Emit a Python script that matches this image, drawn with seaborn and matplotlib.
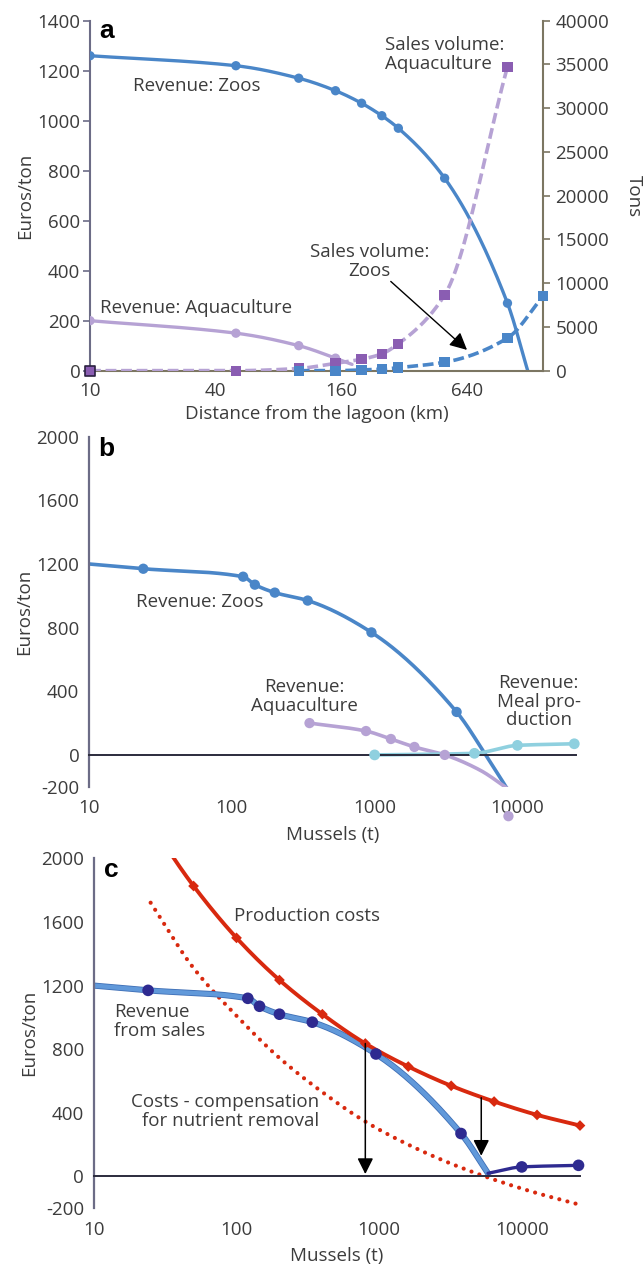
import numpy as np
import pandas as pd
import matplotlib
matplotlib.use("Agg")
import matplotlib.pyplot as plt
import seaborn as sns
from matplotlib.ticker import FixedLocator, NullLocator
import matplotlib.patheffects as pe

# ---------------- data ----------------
# Panel a: distance from the lagoon (km)
zoos_a_km = [10, 50, 100, 150, 200, 250, 300, 500, 1000, 1250]
zoos_a_rev = [1260, 1220, 1170, 1120, 1070, 1020, 970, 770, 270, 0]
aqua_a_km = [10, 50, 100, 150, 180]
aqua_a_rev = [200, 150, 100, 50, 25]
volaq_km = [10, 50, 100, 150, 200, 250, 300, 500, 1000]
volaq_t = [0, 0, 250, 850, 1310, 1920, 3070, 8650, 34750]
volzo_km = [100, 150, 200, 250, 300, 500, 1000, 1480]
volzo_t = [0, 0, 80, 160, 345, 965, 3726, 8510]
a_xticks = [10, 40, 160, 640]

# Panel b: mussels (t)
zoos_b_t = [10, 24, 120, 145, 200, 340, 950, 3750, 6000, 9000]
zoos_b_rev = [1200, 1170, 1120, 1070, 1020, 970, 770, 270, 0, -250]
aqua_b_t = [350, 870, 1300, 1900, 3100, 5450, 8650]
aqua_b_rev = [200, 150, 100, 50, 0, -95, -215]
aqua_b_last_t = [8650]
aqua_b_last_rev = [-385]
meal_b_t = [1000, 5000, 10000, 25000]
meal_b_rev = [0, 10, 60, 70]

# Panel c
cost_t = [25, 50, 100, 200, 400, 800, 1600, 3200, 6400, 12800, 25600]
cost_val = [2215, 1826, 1500, 1235, 1020, 836, 691, 570, 471, 387, 320]
comp_val = [1721, 1310, 1010, 745, 530, 345, 200, 80, -20, -105, -178]
sales_c_t = [10, 24, 120, 145, 200, 340, 950, 3750, 5800]
sales_c_rev = [1200, 1170, 1120, 1070, 1020, 970, 770, 270, 20]
meal_c_t = [5800, 10000, 25000]
meal_c_rev = [20, 60, 70]
arrow_c_t = [800, 5200]
arrow_c_from = [836, 495]
arrow_c_to = [15, 130]

bc_xticks = [10, 100, 1000, 10000]

# ---------------- style ----------------
sns.set_theme(style="white")
plt.rcParams["font.family"] = ["Open Sans", "DejaVu Sans"]
plt.rcParams["axes.unicode_minus"] = False
TXT = "#3c3c3c"
plt.rcParams["text.color"] = TXT
plt.rcParams["axes.labelcolor"] = TXT
plt.rcParams["xtick.color"] = TXT
plt.rcParams["ytick.color"] = TXT
FS = 13.5

BLUE = "#4a86c8"
LPURP = "#b6a2d4"
DPURP = "#8a5db2"
CYAN = "#8fd0df"
RED = "#d8290f"
NAVY = "#2e2a90"
LBLUE = "#6199da"
SPINE_L = "#6c6c86"
OLIVE = "#7c7662"
ZERO = "#2b2b3c"


def pchip(x, y, xn):
    x = np.asarray(x, float); y = np.asarray(y, float)
    h = np.diff(x); d = np.diff(y) / h
    n = len(x)
    m = np.zeros(n)
    if n == 2:
        m[:] = d[0]
    else:
        for k in range(1, n - 1):
            if d[k - 1] * d[k] <= 0:
                m[k] = 0
            else:
                w1 = 2 * h[k] + h[k - 1]; w2 = h[k] + 2 * h[k - 1]
                m[k] = (w1 + w2) / (w1 / d[k - 1] + w2 / d[k])
        m[0] = d[0]; m[-1] = d[-1]
    idx = np.clip(np.searchsorted(x, xn) - 1, 0, n - 2)
    t = (xn - x[idx]) / h[idx]
    h00 = 2 * t**3 - 3 * t**2 + 1; h10 = t**3 - 2 * t**2 + t
    h01 = -2 * t**3 + 3 * t**2; h11 = t**3 - t**2
    return h00 * y[idx] + h10 * h[idx] * m[idx] + h01 * y[idx + 1] + h11 * h[idx] * m[idx + 1]


def smooth_df(x, y, n=300):
    lx = np.log10(np.asarray(x, float))
    t = np.linspace(lx[0], lx[-1], n)
    return pd.DataFrame({"x": 10**t, "y": pchip(lx, y, t)})


def line(ax, x, y, **kw):
    df = smooth_df(x, y)
    return sns.lineplot(data=df, x="x", y="y", ax=ax, estimator=None, sort=False,
                        legend=False, **kw)


def pts(ax, x, y, **kw):
    df = pd.DataFrame({"x": x, "y": y})
    sns.scatterplot(data=df, x="x", y="y", ax=ax, legend=False, **kw)


fig = plt.figure(figsize=(6.43, 12.72), dpi=100)

# ================= panel a =================
ax = fig.add_axes([0.140, 0.7086, 0.7045, 0.2751])
ax.set_xscale("log", base=4)
ax.set_xlim(10, 1480)
ax.set_ylim(0, 1400)
ax2 = ax.twinx()
ax2.set_xscale("log", base=4)
ax2.set_ylim(0, 40000)
ax2.set_xlim(10, 1480)

line(ax, zoos_a_km, zoos_a_rev, color=BLUE, lw=2.4)
pts(ax, zoos_a_km[:-1], zoos_a_rev[:-1], color=BLUE, s=45, edgecolor="none", zorder=3)
line(ax, aqua_a_km, aqua_a_rev, color=LPURP, lw=2.4)
pts(ax, aqua_a_km[:-1], aqua_a_rev[:-1], color=LPURP, s=45, edgecolor="none", zorder=3)

line(ax2, volaq_km, volaq_t, color=LPURP, lw=2.6, dashes=(3, 1.3))
pts(ax2, volaq_km, volaq_t, color=DPURP, marker="s", s=55, edgecolor="none", zorder=4, clip_on=False)
pts(ax2, volaq_km[:1], volaq_t[:1], color=DPURP, marker="s", s=55, edgecolor="#2a2040", linewidth=1.2, zorder=5, clip_on=False)
line(ax2, volzo_km, volzo_t, color=BLUE, lw=2.6, dashes=(3, 1.3))
pts(ax2, volzo_km, volzo_t, color=BLUE, marker="s", s=55, edgecolor="none", zorder=4, clip_on=False)

for a in (ax, ax2):
    a.set_xlabel(""); a.set_ylabel("")
ax.set_xlabel("Distance from the lagoon (km)", fontsize=FS, labelpad=4)
ax.set_ylabel("Euros/ton", fontsize=FS, labelpad=2)
ax2.set_ylabel("Tons", fontsize=FS, rotation=270, labelpad=24)

ax.xaxis.set_major_locator(FixedLocator(a_xticks))
ax.xaxis.set_minor_locator(NullLocator())
ax.set_xticklabels([str(v) for v in a_xticks])
ax.set_yticks(range(0, 1401, 200))
ax2.set_yticks(range(0, 40001, 5000))
ax.tick_params(axis="x", direction="in", length=6, width=1.2, color=OLIVE, labelsize=FS, pad=8)
ax.tick_params(axis="y", direction="out", length=5, width=1.2, color=SPINE_L, labelsize=FS, pad=2)
ax2.tick_params(axis="y", direction="out", length=5, width=1.2, color=OLIVE, labelsize=FS, pad=4)
for s in ("top", "right"):
    ax.spines[s].set_visible(False)
for s in ("top", "left", "bottom"):
    ax2.spines[s].set_visible(False)
ax.spines["left"].set_color(SPINE_L); ax.spines["left"].set_linewidth(1.5)
ax.spines["bottom"].set_color(OLIVE); ax.spines["bottom"].set_linewidth(1.5)
ax2.spines["right"].set_color(OLIVE); ax2.spines["right"].set_linewidth(1.5)

ax.text(0.02, 1.005, "a", transform=ax.transAxes, fontsize=19, fontweight="bold",
        family="Liberation Sans", color="black", va="top", ha="left")
ax.text(16.1, 1137, "Revenue: Zoos", fontsize=FS, va="center", ha="left")
ax.text(11.2, 252, "Revenue: Aquaculture", fontsize=FS, va="center", ha="left")
ax.text(259, 1266, "Sales volume:\nAquaculture", fontsize=FS, va="center", ha="left", linespacing=1.05)
ax.text(219, 437, "Sales volume:\nZoos", fontsize=FS, va="center", ha="center", linespacing=1.05)
ax.annotate("", xy=(640, 83), xytext=(276, 357),
            arrowprops=dict(arrowstyle="-|>", color="black", lw=1.0, mutation_scale=26,
                            shrinkA=0, shrinkB=0))


# ================= panels b and c common =================
def setup_bc(axx):
    axx.set_xscale("log")
    axx.set_xlim(10, 25600)
    axx.set_ylim(-200, 2000)
    axx.xaxis.set_major_locator(FixedLocator(bc_xticks))
    axx.xaxis.set_minor_locator(NullLocator())
    axx.set_xticklabels([str(v) for v in bc_xticks])
    axx.yaxis.set_major_locator(FixedLocator([-200, 0, 400, 800, 1200, 1600, 2000]))
    axx.yaxis.set_minor_locator(FixedLocator([200, 600, 1000, 1400, 1800]))
    axx.tick_params(axis="y", which="both", direction="out", length=5, width=1.2,
                    color=SPINE_L, labelsize=FS, pad=2)
    axx.tick_params(axis="x", direction="out", length=6, width=1.4, color=ZERO,
                    labelsize=FS, pad=26)
    for s in ("top", "right"):
        axx.spines[s].set_visible(False)
    axx.spines["left"].set_color(SPINE_L); axx.spines["left"].set_linewidth(1.6)
    axx.spines["bottom"].set_position(("data", 0))
    axx.spines["bottom"].set_color(ZERO); axx.spines["bottom"].set_linewidth(1.4)


# ================= panel b =================
bx = fig.add_axes([0.1384, 0.3815, 0.757, 0.2752])
setup_bc(bx)
line(bx, zoos_b_t, zoos_b_rev, color=BLUE, lw=2.6)
pts(bx, zoos_b_t[1:8], zoos_b_rev[1:8], color=BLUE, s=55, edgecolor="none", zorder=3)
line(bx, aqua_b_t, aqua_b_rev, color=LPURP, lw=2.6)
pts(bx, aqua_b_t[:5], aqua_b_rev[:5], color=LPURP, s=55, edgecolor="none", zorder=3)
pts(bx, aqua_b_last_t, aqua_b_last_rev, color=LPURP, s=55, edgecolor="none", zorder=3, clip_on=False)
line(bx, meal_b_t, meal_b_rev, color=CYAN, lw=2.6)
pts(bx, meal_b_t, meal_b_rev, color=CYAN, s=60, edgecolor="none", zorder=3, clip_on=False)
bx.set_xlabel("Mussels (t)", fontsize=FS, labelpad=6)
bx.set_ylabel("Euros/ton", fontsize=FS, labelpad=2)

bx.text(0.02, 1.0, "b", transform=bx.transAxes, fontsize=19, fontweight="bold",
        family="Liberation Sans", color="black", va="top", ha="left")
bx.text(21.3, 963, "Revenue: Zoos", fontsize=FS, va="center", ha="left")
bx.text(322, 366, "Revenue:\nAquaculture", fontsize=FS, va="center", ha="center", linespacing=1.05)
bx.text(14100, 335, "Revenue:\nMeal pro-\nduction", fontsize=FS, va="center", ha="center", linespacing=1.05)

# ================= panel c =================
cx = fig.add_axes([0.146, 0.0501, 0.756, 0.2751])
setup_bc(cx)
line(cx, cost_t, comp_val, color=RED, lw=3.0, linestyle=(0, (0.01, 2.0)),
     solid_capstyle="round", dash_capstyle="round")
line(cx, sales_c_t, sales_c_rev, color=LBLUE, lw=3.2,
     path_effects=[pe.Stroke(linewidth=4.4, foreground="#3f6fb6"), pe.Normal()])
line(cx, meal_c_t, meal_c_rev, color=NAVY, lw=2.4)
line(cx, cost_t, cost_val, color=RED, lw=2.8)
pts(cx, cost_t[1:], cost_val[1:], color=RED, marker="D", s=30, edgecolor="none", zorder=4, clip_on=False)
pts(cx, sales_c_t[1:8], sales_c_rev[1:8], color=NAVY, s=70, edgecolor="none", zorder=4)
pts(cx, meal_c_t[1:], meal_c_rev[1:], color=NAVY, s=70, edgecolor="none", zorder=4, clip_on=False)
cx.set_xlabel("Mussels (t)", fontsize=FS, labelpad=6)
cx.set_ylabel("Euros/ton", fontsize=FS, labelpad=2)

for xv, y0, y1 in zip(arrow_c_t, arrow_c_from, arrow_c_to):
    cx.annotate("", xy=(xv, y1), xytext=(xv, y0),
                arrowprops=dict(arrowstyle="-|>", color="black", lw=1.1, mutation_scale=24,
                                shrinkA=0, shrinkB=0), zorder=5)

cx.text(0.02, 1.0, "c", transform=cx.transAxes, fontsize=19, fontweight="bold",
        family="Liberation Sans", color="black", va="top", ha="left")
cx.text(95.5, 1638, "Production costs", fontsize=FS, va="center", ha="left")
cx.text(13.9, 974, "Revenue\nfrom sales", fontsize=FS, va="center", ha="left", linespacing=1.05)
cx.text(378, 408, "Costs - compensation\nfor nutrient removal", fontsize=FS, va="center",
        ha="right", linespacing=1.05)

fig.savefig("out.png", dpi=100)
